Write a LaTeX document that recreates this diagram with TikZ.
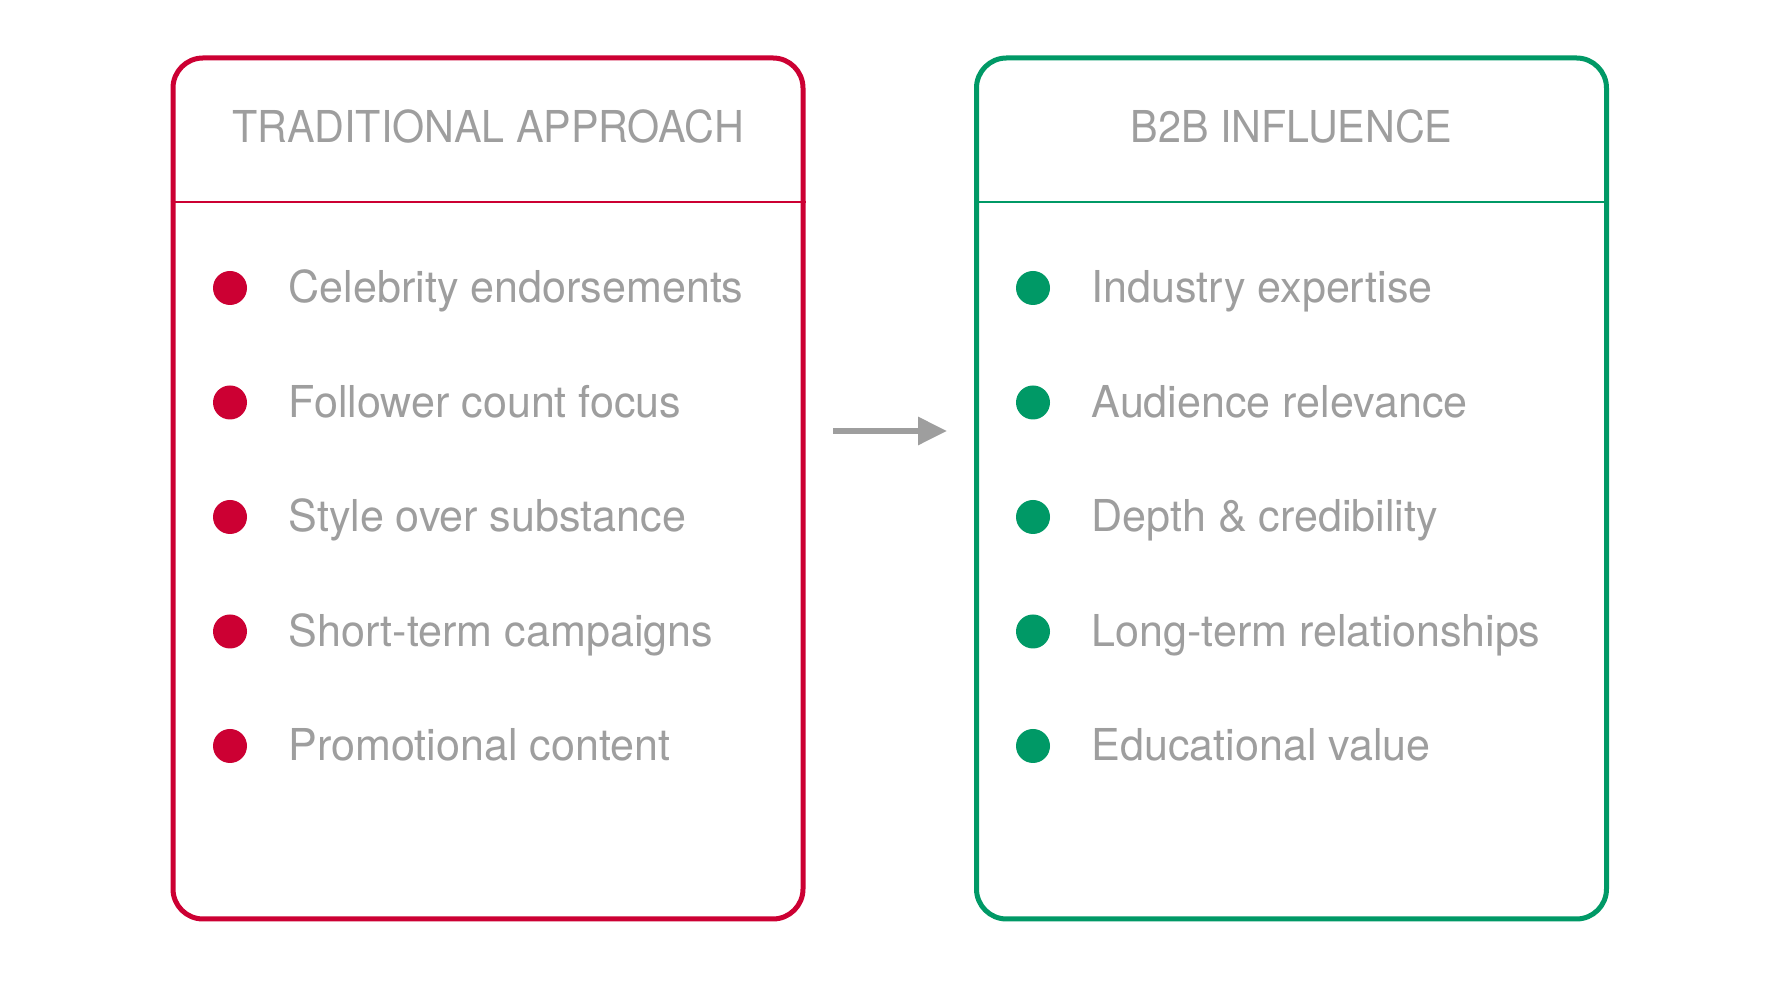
\documentclass[tikz,border=0pt]{standalone}
\usepackage{fontspec}
\setmainfont{TeX Gyre Heros}[FakeStretch=0.98]
\newfontfamily\headfont{TeX Gyre Heros}[FakeStretch=0.94]
\usepackage{tikz}
\usetikzlibrary{arrows.meta,positioning}
\definecolor{tradred}{RGB}{204,0,51}
\definecolor{infgreen}{RGB}{0,153,102}
\definecolor{textgray}{RGB}{158,158,158}
\tikzset{
  panel/.style={draw=#1,line width=0.05cm,rounded corners=0.3cm,minimum width=6.30cm,minimum height=8.61cm,inner sep=0pt},
  divider/.style={#1,line width=0.025cm},
  heading/.style={text=textgray,font=\headfont\fontsize{12.5pt}{15pt}\selectfont,anchor=base,inner sep=0pt},
  item/.style={text=textgray,font=\fontsize{12.5pt}{15pt}\selectfont,anchor=base west,inner sep=0pt},
  dot/.style={circle,fill=#1,minimum size=0.34cm,inner sep=0pt},
  flow/.style={-{Triangle[length=0.29cm,width=0.27cm]},line width=0.06cm,textgray}
}

\begin{document}
\begin{tikzpicture}
    \path[use as bounding box,fill=white] (0,0) rectangle (17.74,-9.94);
    % the two panels
    \node[panel=tradred] (trad) at (4.88,-4.885) {};
    \node[panel=infgreen] (infl) at (12.915,-4.885) {};
    \draw[divider=tradred] (trad.west |- 0,-2.02) -- (trad.east |- 0,-2.02);
    \draw[divider=infgreen] (infl.west |- 0,-2.02) -- (infl.east |- 0,-2.02);
    \node[heading] (tradtitle) at (4.88,-1.43) {TRADITIONAL APPROACH};
    \node[heading] (infltitle) at (12.915,-1.43) {B2B INFLUENCE};
    % bullet lists
    \foreach \txt [count=\i] in {Celebrity endorsements,Follower count focus,Style over substance,Short-term campaigns,Promotional content}{
      \node[dot=tradred] (tdot\i) at (2.30,{-2.88-1.145*(\i-1)}) {};
      \node[item] (titem\i) at (2.88,{-3.03-1.145*(\i-1)}) {\txt};
    }
    \foreach \txt [count=\i] in {Industry expertise,Audience relevance,Depth \& credibility,Long-term relationships,Educational value}{
      \node[dot=infgreen] (idot\i) at (10.33,{-2.88-1.145*(\i-1)}) {};
      \node[item] (iitem\i) at (10.91,{-3.03-1.145*(\i-1)}) {\txt};
    }
    % arrow between panels
    \coordinate (from) at (8.33,-4.31);
    \coordinate (to) at (9.47,-4.31);
    \draw[flow] (from) -- (to);
\end{tikzpicture}
\end{document}
